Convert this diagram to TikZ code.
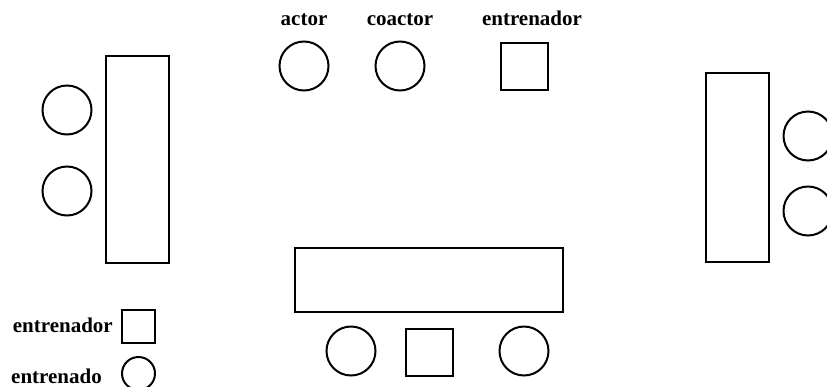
\documentclass[tikz,border=0pt]{standalone}
\usepackage{fontspec}
\setmainfont{Liberation Serif}
\begin{document}
\begin{tikzpicture}[x=1pt,y=-1pt,
  lw/.style={line width=2pt},
  person/.style={lw,draw,circle,minimum size=49pt,inner sep=0pt},
  coach/.style={lw,draw,rectangle,minimum size=47pt,inner sep=0pt},
  table/.style={lw,draw,rectangle,inner sep=0pt},
  lbl/.style={font=\fontsize{21}{21}\selectfont\bfseries,inner sep=0pt,anchor=base}]
\useasboundingbox (0,0) rectangle (827,386);
% top group
\node[lbl] (lactor) at (304,25) {actor};
\node[lbl] (lcoactor) at (400,25) {coactor};
\node[lbl] (lcoach) at (532,25) {entrenador};
\node[person] (actor) at (304,66) {};
\node[person] (coactor) at (400,66) {};
\node[coach] (topcoach) at (524,66) {};
% left group
\node[table,minimum width=63pt,minimum height=207pt] (ltable) at (137.5,159) {};
\node[person] (l1) at (67,110) {};
\node[person] (l2) at (67,191) {};
% right group
\node[table,minimum width=63pt,minimum height=189pt] (rtable) at (737.5,167.5) {};
\node[person] (r1) at (808,136) {};
\node[person] (r2) at (808,211) {};
% bottom group
\node[table,minimum width=268pt,minimum height=64pt] (btable) at (429,280) {};
\node[person] (b1) at (351,351) {};
\node[coach] (bcoach) at (429,352) {};
\node[person] (b2) at (524,351) {};
% legend
\node[lbl,anchor=base east] (leg1) at (113,332) {entrenador};
\node[lbl,anchor=base east] (leg2) at (102,383) {entrenado};
\node[lw,draw,rectangle,minimum size=33pt,inner sep=0pt] (legsq) at (138.5,326.5) {};
\node[lw,draw,circle,minimum size=33pt,inner sep=0pt] (legci) at (138.5,373.5) {};
\end{tikzpicture}
\end{document}
